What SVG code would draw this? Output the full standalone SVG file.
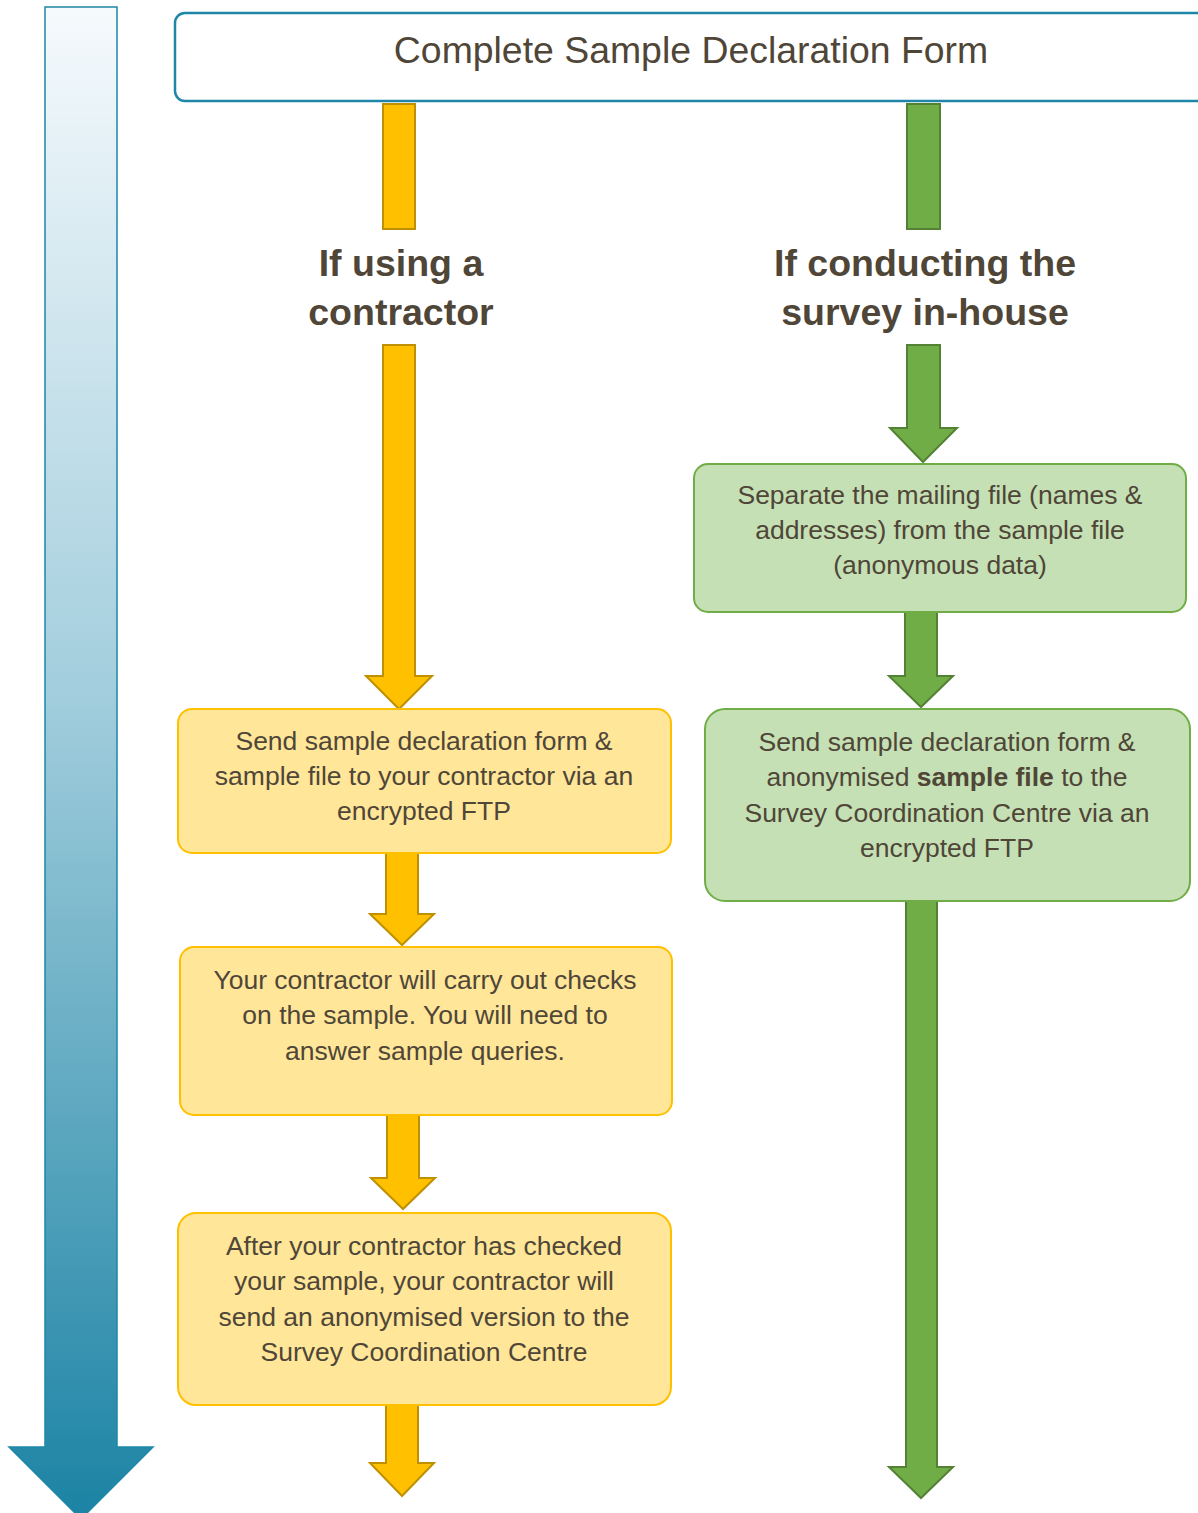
<svg xmlns="http://www.w3.org/2000/svg" width="1198" height="1513" viewBox="0 0 1198 1513">
<defs>
<linearGradient id="timeGrad" x1="0" y1="0" x2="0" y2="1">
<stop offset="0" stop-color="#F6FAFD"/>
<stop offset="0.45" stop-color="#A3CEDD"/>
<stop offset="1" stop-color="#1B83A4"/>
</linearGradient>
<style>
.t{font-family:"Liberation Sans",Arial,sans-serif;fill:#4F4638;text-anchor:middle}
.box{font-size:26.5px}
.head{font-size:37.5px;font-weight:bold}
.ya{fill:#FFC000;stroke:#BF9000;stroke-width:2}
.ga{fill:#70AD47;stroke:#548235;stroke-width:2}
.yb{fill:#FFE699;stroke:#FFC000;stroke-width:2}
.gb{fill:#C5E0B4;stroke:#70AD47;stroke-width:2}
</style>
</defs>
<rect width="1198" height="1513" fill="#FFFFFF"/>

<g id="timeline">
<path d="M45,7 H117 V1447 H153 L81,1519 L9,1447 H45 Z" fill="url(#timeGrad)" stroke="#1E86A8" stroke-width="1.5"/>
</g>

<g id="connectors">
<rect class="ya" x="383" y="104" width="32" height="125"/>
<path class="ya" d="M383,345 H415 V676 H432 L399,709 L366,676 H383 Z"/>
<rect class="ga" x="907" y="104" width="33" height="125"/>
<path class="ga" d="M907,345 H940 V428 H957 L923,462 L890,428 H907 Z"/>
<path class="ga" d="M905,612 H937 V676 H953 L921,707 L889,676 H905 Z"/>
<path class="ga" d="M906,901 H937 V1467 H953 L921,1498 L889,1467 H906 Z"/>
<path class="ya" d="M386,853 H418 V914 H434 L402,945 L370,914 H386 Z"/>
<path class="ya" d="M387,1115 H419 V1178 H435 L403,1209 L371,1178 H387 Z"/>
<path class="ya" d="M386,1405 H418 V1463 H434 L402,1496 L370,1463 H386 Z"/>
</g>

<g id="title">
<rect x="175" y="13" width="1040" height="88" rx="10" fill="#FFFFFF" stroke="#1F86A8" stroke-width="2.5"/>
<text class="t" x="691" y="63" font-size="37.4">Complete Sample Declaration Form</text>
</g>

<g id="label-contractor">
<text class="t head" x="401" y="276">If using a</text>
<text class="t head" x="401" y="325">contractor</text>
</g>

<g id="label-inhouse">
<text class="t head" x="925" y="276">If conducting the</text>
<text class="t head" x="925" y="325">survey in-house</text>
</g>

<g id="g1">
<rect class="gb" x="694" y="464" width="492" height="148" rx="14"/>
<text class="t box" x="940" y="504">Separate the mailing file (names &amp;</text>
<text class="t box" x="940" y="539">addresses) from the sample file</text>
<text class="t box" x="940" y="574">(anonymous data)</text>
</g>

<g id="g2">
<rect class="gb" x="705" y="709" width="485" height="192" rx="20"/>
<text class="t box" x="947" y="751">Send sample declaration form &amp;</text>
<text class="t box" x="947" y="786">anonymised <tspan font-weight="bold">sample file</tspan> to the</text>
<text class="t box" x="947" y="822">Survey Coordination Centre via an</text>
<text class="t box" x="947" y="857">encrypted FTP</text>
</g>

<g id="y1">
<rect class="yb" x="178" y="709" width="493" height="144" rx="14"/>
<text class="t box" x="424" y="750">Send sample declaration form &amp;</text>
<text class="t box" x="424" y="785">sample file to your contractor via an</text>
<text class="t box" x="424" y="820">encrypted FTP</text>
</g>

<g id="y2">
<rect class="yb" x="180" y="947" width="492" height="168" rx="14"/>
<text class="t box" x="425" y="989">Your contractor will carry out checks</text>
<text class="t box" x="425" y="1024">on the sample. You will need to</text>
<text class="t box" x="425" y="1060">answer sample queries.</text>
</g>

<g id="y3">
<rect class="yb" x="178" y="1213" width="493" height="192" rx="18"/>
<text class="t box" x="424" y="1255">After your contractor has checked</text>
<text class="t box" x="424" y="1290">your sample, your contractor will</text>
<text class="t box" x="424" y="1326">send an anonymised version to the</text>
<text class="t box" x="424" y="1361">Survey Coordination Centre</text>
</g>
</svg>
